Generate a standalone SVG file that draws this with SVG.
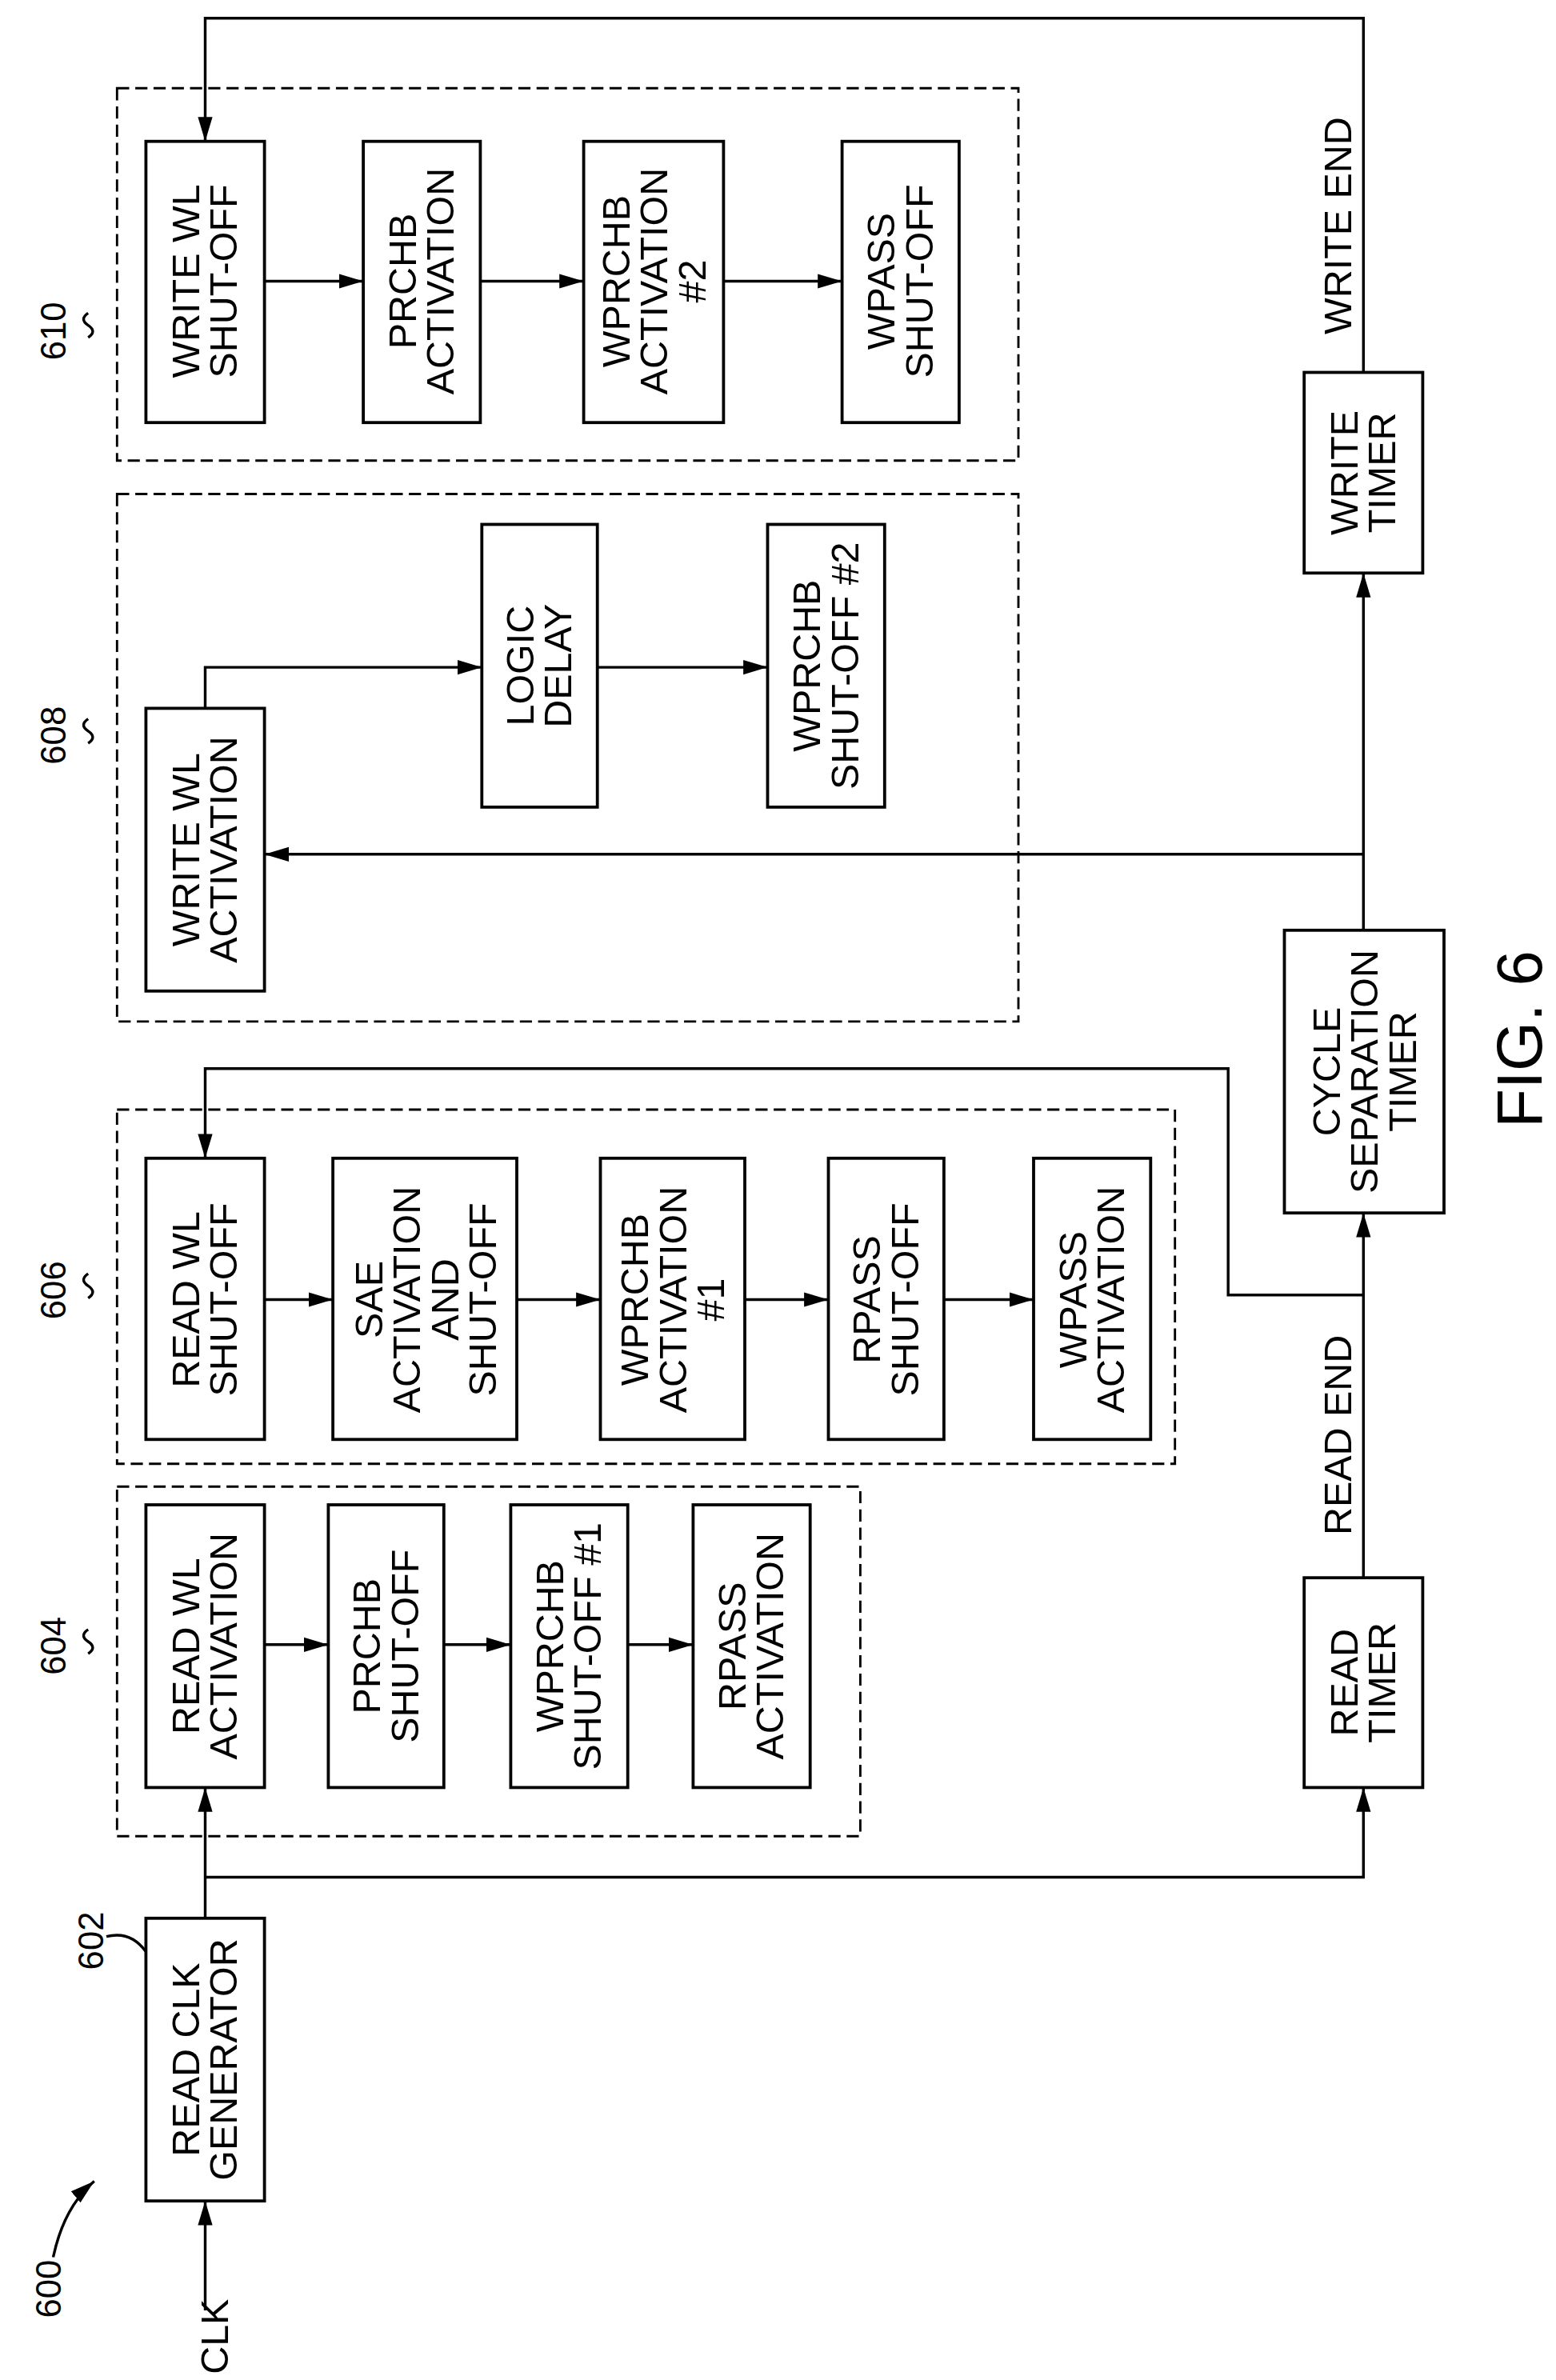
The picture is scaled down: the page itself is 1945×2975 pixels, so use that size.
<svg xmlns="http://www.w3.org/2000/svg" width="1945" height="2975" viewBox="0 0 1945 2975">
<style>
.b{fill:none;stroke:#000;stroke-width:2}
.d{fill:none;stroke:#000;stroke-width:1.5;stroke-dasharray:8,4}
.c{fill:none;stroke:#000;stroke-width:1.8}
text{font-family:"Liberation Sans",Arial,sans-serif;font-size:25.5px;fill:#000}
.l{font-size:23px}
</style>
<defs><marker id="a" viewBox="0 0 10 10" refX="10" refY="5" markerWidth="16" markerHeight="16" markerUnits="userSpaceOnUse" orient="auto"><path d="M0,2 L10,5 L0,8 z" fill="#000"/></marker></defs>
<rect width="1945" height="2975" fill="#fff"/>
<g transform="scale(1.9)">
<g id="groups">
<rect class="d" x="77" y="58" width="593" height="245"/>
<rect class="d" x="77" y="325" width="593" height="347"/>
<rect class="d" x="77" y="730" width="696" height="233"/>
<rect class="d" x="77" y="978" width="489" height="230"/>
</g>
<g id="n610a"><rect class="b" x="96" y="93" width="78" height="185"/><text transform="translate(135,185) rotate(-90)" text-anchor="middle"><tspan x="0" y="-4">WRITE WL</tspan><tspan x="0" y="21">SHUT-OFF</tspan></text></g>
<g id="n610b"><rect class="b" x="239" y="93" width="77" height="185"/><text transform="translate(277.5,185) rotate(-90)" text-anchor="middle"><tspan x="0" y="-4">PRCHB</tspan><tspan x="0" y="21">ACTIVATION</tspan></text></g>
<g id="n610c"><rect class="b" x="384" y="93" width="92" height="185"/><text transform="translate(430,185) rotate(-90)" text-anchor="middle"><tspan x="0" y="-16">WPRCHB</tspan><tspan x="0" y="9">ACTIVATION</tspan><tspan x="0" y="34">#2</tspan></text></g>
<g id="n610d"><rect class="b" x="554" y="93" width="77" height="185"/><text transform="translate(592.5,185) rotate(-90)" text-anchor="middle"><tspan x="0" y="-4">WPASS</tspan><tspan x="0" y="21">SHUT-OFF</tspan></text></g>
<g id="n608a"><rect class="b" x="96" y="466" width="78" height="186"/><text transform="translate(135,559) rotate(-90)" text-anchor="middle"><tspan x="0" y="-4">WRITE WL</tspan><tspan x="0" y="21">ACTIVATION</tspan></text></g>
<g id="n608b"><rect class="b" x="317" y="345" width="76" height="186"/><text transform="translate(355,438) rotate(-90)" text-anchor="middle"><tspan x="0" y="-4">LOGIC</tspan><tspan x="0" y="21">DELAY</tspan></text></g>
<g id="n608c"><rect class="b" x="505" y="345" width="77" height="186"/><text transform="translate(543.5,438) rotate(-90)" text-anchor="middle"><tspan x="0" y="-4">WPRCHB</tspan><tspan x="0" y="21">SHUT-OFF #2</tspan></text></g>
<g id="n606a"><rect class="b" x="96" y="762" width="78" height="185"/><text transform="translate(135,855) rotate(-90)" text-anchor="middle"><tspan x="0" y="-4">READ WL</tspan><tspan x="0" y="21">SHUT-OFF</tspan></text></g>
<g id="n606b"><rect class="b" x="219" y="762" width="121" height="185"/><text transform="translate(279.5,855) rotate(-90)" text-anchor="middle"><tspan x="0" y="-28">SAE</tspan><tspan x="0" y="-3">ACTIVATION</tspan><tspan x="0" y="22">AND</tspan><tspan x="0" y="47">SHUT-OFF</tspan></text></g>
<g id="n606c"><rect class="b" x="395" y="762" width="95" height="185"/><text transform="translate(442.5,855) rotate(-90)" text-anchor="middle"><tspan x="0" y="-16">WPRCHB</tspan><tspan x="0" y="9">ACTIVATION</tspan><tspan x="0" y="34">#1</tspan></text></g>
<g id="n606d"><rect class="b" x="545" y="762" width="76" height="185"/><text transform="translate(583,855) rotate(-90)" text-anchor="middle"><tspan x="0" y="-4">RPASS</tspan><tspan x="0" y="21">SHUT-OFF</tspan></text></g>
<g id="n606e"><rect class="b" x="680" y="762" width="77" height="185"/><text transform="translate(718.5,855) rotate(-90)" text-anchor="middle"><tspan x="0" y="-4">WPASS</tspan><tspan x="0" y="21">ACTIVATION</tspan></text></g>
<g id="n604a"><rect class="b" x="96" y="990" width="78" height="186"/><text transform="translate(135,1083) rotate(-90)" text-anchor="middle"><tspan x="0" y="-4">READ WL</tspan><tspan x="0" y="21">ACTIVATION</tspan></text></g>
<g id="n604b"><rect class="b" x="216" y="990" width="76" height="186"/><text transform="translate(254,1083) rotate(-90)" text-anchor="middle"><tspan x="0" y="-4">PRCHB</tspan><tspan x="0" y="21">SHUT-OFF</tspan></text></g>
<g id="n604c"><rect class="b" x="336" y="990" width="77" height="186"/><text transform="translate(374.5,1083) rotate(-90)" text-anchor="middle"><tspan x="0" y="-4">WPRCHB</tspan><tspan x="0" y="21">SHUT-OFF #1</tspan></text></g>
<g id="n604d"><rect class="b" x="456" y="990" width="77" height="186"/><text transform="translate(494.5,1083) rotate(-90)" text-anchor="middle"><tspan x="0" y="-4">RPASS</tspan><tspan x="0" y="21">ACTIVATION</tspan></text></g>
<g id="n602"><rect class="b" x="96" y="1262" width="78" height="186"/><text transform="translate(135,1355) rotate(-90)" text-anchor="middle"><tspan x="0" y="-4">READ CLK</tspan><tspan x="0" y="21">GENERATOR</tspan></text></g>
<g id="readtimer"><rect class="b" x="858" y="1038" width="78" height="138"/><text transform="translate(897,1107) rotate(-90)" text-anchor="middle"><tspan x="0" y="-4">READ</tspan><tspan x="0" y="21">TIMER</tspan></text></g>
<g id="cycletimer"><rect class="b" x="845" y="612" width="105" height="186"/><text transform="translate(897.5,705) rotate(-90)" text-anchor="middle"><tspan x="0" y="-16">CYCLE</tspan><tspan x="0" y="9">SEPARATION</tspan><tspan x="0" y="34">TIMER</tspan></text></g>
<g id="writetimer"><rect class="b" x="858" y="245" width="78" height="132"/><text transform="translate(897,311) rotate(-90)" text-anchor="middle"><tspan x="0" y="-4">WRITE</tspan><tspan x="0" y="21">TIMER</tspan></text></g>
<g id="connectors">
<path class="c" d="M174,185 H239" marker-end="url(#a)"/>
<path class="c" d="M316,185 H384" marker-end="url(#a)"/>
<path class="c" d="M476,185 H554" marker-end="url(#a)"/>
<path class="c" d="M135,466 V439 H317" marker-end="url(#a)"/>
<path class="c" d="M393,439 H505" marker-end="url(#a)"/>
<path class="c" d="M897,562 H174" marker-end="url(#a)"/>
<path class="c" d="M174,855 H219" marker-end="url(#a)"/>
<path class="c" d="M340,855 H395" marker-end="url(#a)"/>
<path class="c" d="M490,855 H545" marker-end="url(#a)"/>
<path class="c" d="M621,855 H680" marker-end="url(#a)"/>
<path class="c" d="M174,1082 H216" marker-end="url(#a)"/>
<path class="c" d="M292,1082 H336" marker-end="url(#a)"/>
<path class="c" d="M413,1082 H456" marker-end="url(#a)"/>
<path class="c" d="M135,1520 V1448" marker-end="url(#a)"/>
<path class="c" d="M135,1262 V1176" marker-end="url(#a)"/>
<path class="c" d="M135,1235 H897 V1176" marker-end="url(#a)"/>
<path class="c" d="M897,1038 V798" marker-end="url(#a)"/>
<path class="c" d="M897,852 H808 V703 H135 V762" marker-end="url(#a)"/>
<path class="c" d="M897,612 V377" marker-end="url(#a)"/>
<path class="c" d="M897,245 V12 H135 V93" marker-end="url(#a)"/>
<path class="c" d="M35,1485 Q42,1452 62,1435" marker-end="url(#a)"/>
</g>
<g id="labels">
<text transform="translate(889,1010) rotate(-90)">READ END</text>
<text transform="translate(889,220) rotate(-90)">WRITE END</text>
<text transform="translate(150,1562) rotate(-90)">CLK</text>
<text class="l" transform="translate(40,1525) rotate(-90)">600</text>
<text class="l" transform="translate(68,1296) rotate(-90)">602</text>
<text class="l" transform="translate(43,1102) rotate(-90)">604</text>
<text class="l" transform="translate(43,868) rotate(-90)">606</text>
<text class="l" transform="translate(43,503) rotate(-90)">608</text>
<text class="l" transform="translate(43,237) rotate(-90)">610</text>
<text transform="translate(1014,742) rotate(-90)" style="font-size:42px">FIG. 6</text>
<path class="c" d="M70,1274 Q86,1270 96,1284"/>
<path class="c" d="M58,1072 q-6,4 0,8 q6,4 0,8"/>
<path class="c" d="M58,838 q-6,4 0,8 q6,4 0,8"/>
<path class="c" d="M58,473 q-6,4 0,8 q6,4 0,8"/>
<path class="c" d="M58,206 q-6,4 0,8 q6,4 0,8"/>
</g>
</g>
</svg>
